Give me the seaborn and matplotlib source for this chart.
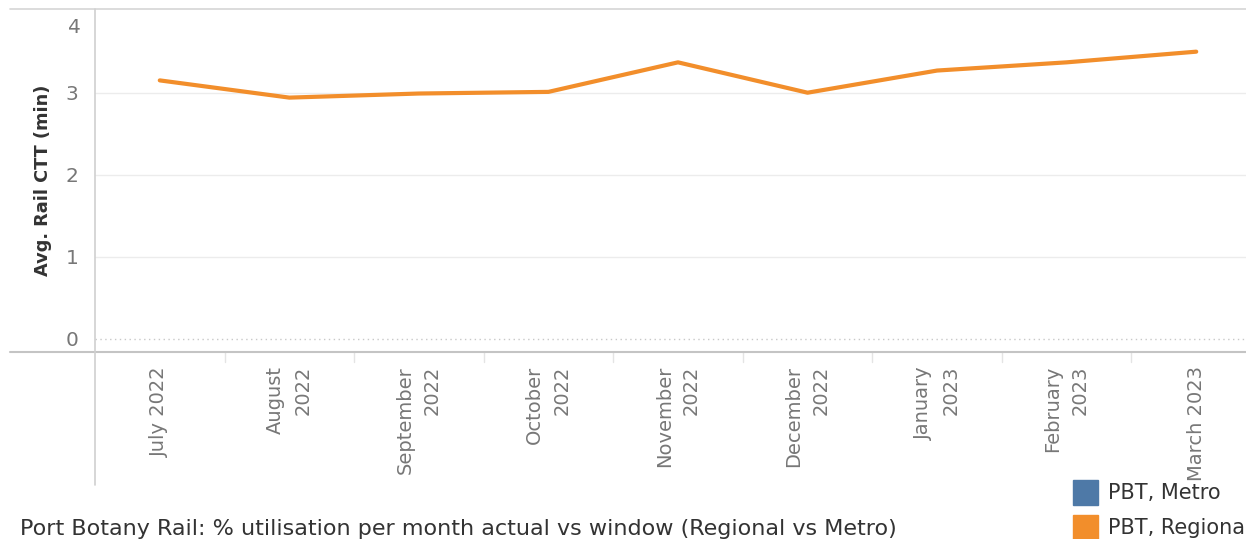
import matplotlib
matplotlib.use("Agg")
import matplotlib.pyplot as plt
from matplotlib.lines import Line2D
from matplotlib.patches import Rectangle
import seaborn as sns
import pandas as pd

months = ["July 2022", "August\n2022", "September\n2022", "October\n2022", "November\n2022",
          "December\n2022", "January\n2023", "February\n2023", "March 2023"]
avg_ctt = [3.15, 2.94, 2.99, 3.01, 3.37, 3.00, 3.27, 3.37, 3.50]
y_ticks = [0, 1, 2, 3, 4]
legend_labels = ["PBT, Metro", "PBT, Regional"]
legend_colors = ["#4e79a7", "#f28e2b"]
footer = "Port Botany Rail: % utilisation per month actual vs window (Regional vs Metro)"

df = pd.DataFrame({"Month": months, "CTT": avg_ctt})

sns.set_style("white")
W, H = 1246, 539
fig = plt.figure(figsize=(W / 100, H / 100), dpi=100)
ax = fig.add_axes([95 / W, (H - 352) / H, (1261 - 95) / W, (352 - 9) / H])

sns.lineplot(data=df, x="Month", y="CTT", sort=False, color="#f28e2b", linewidth=3.0, ax=ax)

ax.set_xlim(-0.5, 8.5)
ax.set_ylim(-0.16, 4.02)
for s in ax.spines.values():
    s.set_visible(False)

# gridlines
for v in y_ticks[1:-1]:
    ax.axhline(v, color="#ececec", linewidth=1, zorder=0)
ax.axhline(0, color="#c8c8c8", linewidth=1, linestyle=(0, (1, 2.5)), zorder=0)

ax.set_yticks(y_ticks[:-1])
ax.set_yticklabels([str(v) for v in y_ticks[:-1]], color="#777777", fontsize=14.5)
ax.text(-0.012, 3.8, str(y_ticks[-1]), transform=ax.get_yaxis_transform(), ha="right",
        va="center", color="#777777", fontsize=14.5)
ax.tick_params(axis="y", length=0, pad=12)
ax.set_ylabel("Avg. Rail CTT (min)", fontsize=12.8, color="#333333", fontweight="semibold",
              labelpad=10)

ax.set_xticks(range(len(months)))
ax.set_xticklabels(months, rotation=90, va="top", ha="center", multialignment="right",
                   linespacing=1.55, color="#777777", fontsize=14)
ax.tick_params(axis="x", length=0, pad=10)
ax.set_xlabel("")
# separators between categories
for i in range(len(months) - 1):
    ax.plot([i + 0.5, i + 0.5], [0, -0.03], transform=ax.get_xaxis_transform(),
            color="#e4e4e4", linewidth=1, clip_on=False)

# frame lines
fig.add_artist(Line2D([10 / W, 1], [1 - 9 / H, 1 - 9 / H], color="#d6d6d6", linewidth=1.2))
fig.add_artist(Line2D([10 / W, 1], [1 - 352 / H, 1 - 352 / H], color="#c4c4c4", linewidth=1.5))
fig.add_artist(Line2D([95 / W, 95 / W], [1 - 9 / H, 1 - 485 / H], color="#d0d0d0", linewidth=1.2))

# legend
for i, (lab, col) in enumerate(zip(legend_labels, legend_colors)):
    y0 = 480 + i * 35
    fig.add_artist(Rectangle((1073 / W, 1 - (y0 + 25) / H), 25 / W, 25 / H, color=col,
                             transform=fig.transFigure))
    fig.text(1108 / W, 1 - (y0 + 13) / H, lab, fontsize=15, color="#333333", va="center")

fig.text(20 / W, 1 - 529 / H, footer, fontsize=16, color="#333333", va="center")

fig.savefig("out.png", dpi=100)
